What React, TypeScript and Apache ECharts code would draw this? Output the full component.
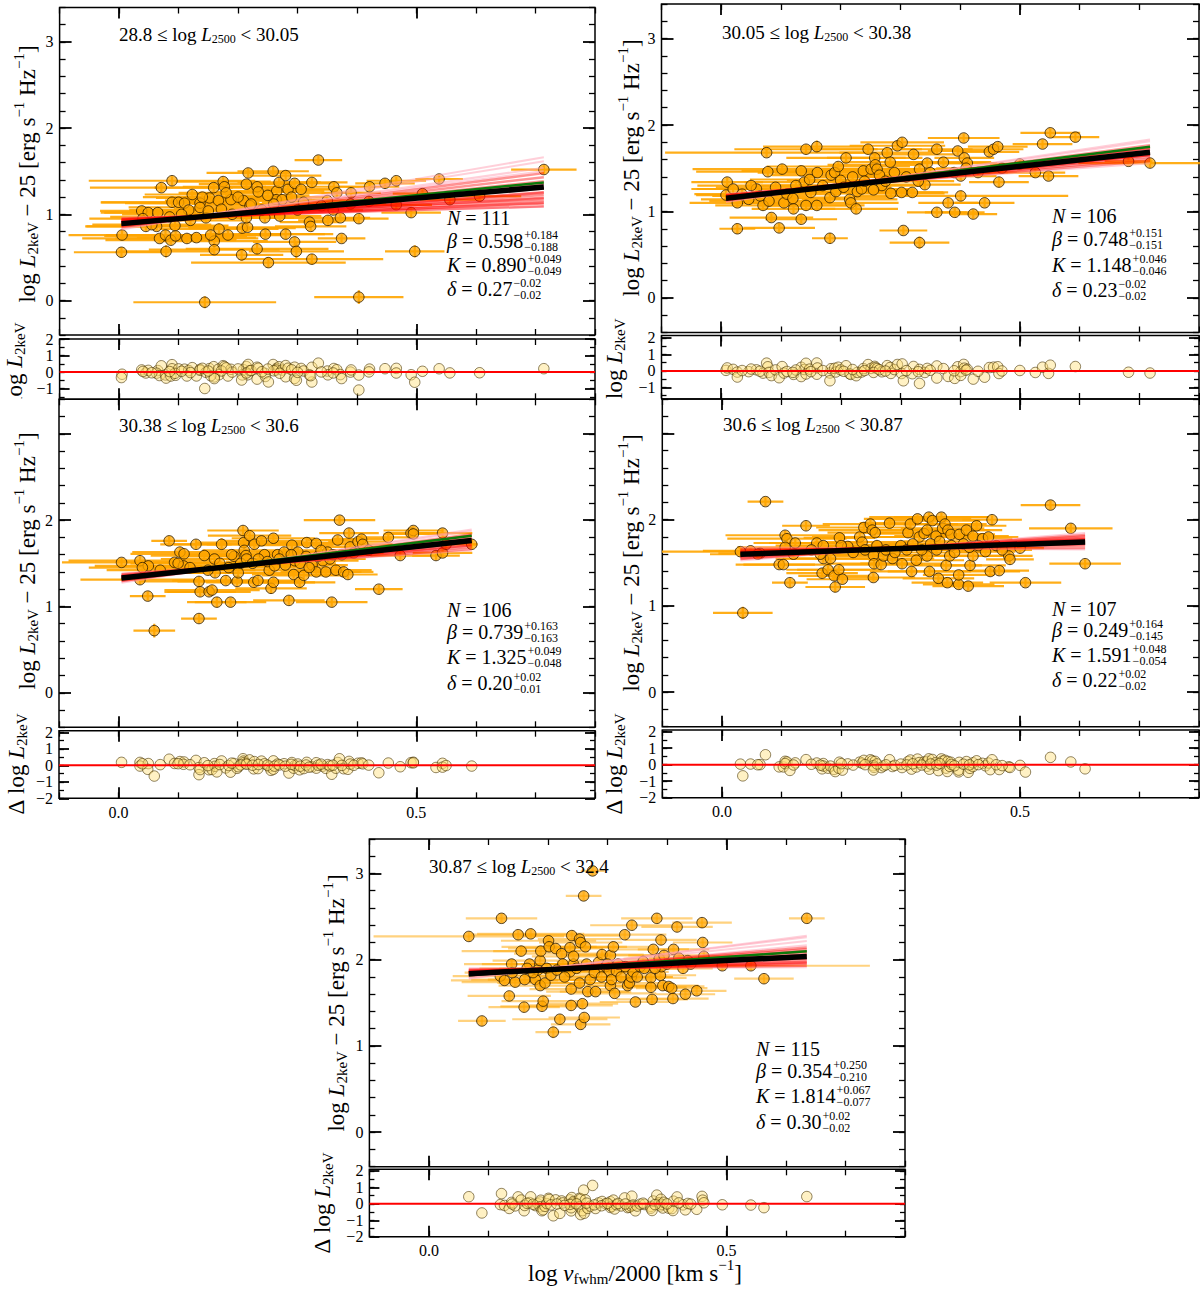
import React, { useEffect, useRef } from 'react';
import * as echarts from 'echarts';

const FONT = '"Liberation Serif", "DejaVu Serif", serif';

// ---------- data: [x, y, xErr, yErr] ----------
const POINTS_TL = [
  [0.005,0.76,0.09,0.06],[0.004,0.56,0.08,0.06],[0.038,1.04,0.07,0.05],[0.045,0.86,0.1,0.05],[0.049,1.02,0.08,0.05],
  [0.065,1.02,0.09,0.05],[0.071,1.31,0.12,0.05],[0.089,1.39,0.14,0.05],[0.063,0.86,0.12,0.05],[0.068,0.72,0.13,0.05],
  [0.078,0.76,0.1,0.06],[0.079,0.57,0.08,0.07],[0.087,0.70,0.11,0.05],[0.095,0.75,0.12,0.05],[0.089,1.14,0.12,0.05],
  [0.10,1.14,0.13,0.05],[0.11,1.13,0.1,0.05],[0.094,0.87,0.09,0.05],[0.117,1.05,0.1,0.05],[0.114,0.72,0.12,0.05],
  [0.13,0.73,0.1,0.05],[0.123,1.23,0.08,0.05],[0.136,1.13,0.1,0.05],[0.136,1.08,0.12,0.05],[0.146,0.96,0.1,0.05],
  [0.152,1.19,0.09,0.05],[0.159,1.31,0.1,0.05],[0.167,1.16,0.09,0.05],[0.175,1.38,0.08,0.05],[0.177,1.32,0.07,0.05],
  [0.168,0.83,0.1,0.06],[0.16,0.69,0.09,0.06],[0.154,0.76,0.1,0.05],[0.16,0.59,0.11,0.06],[0.183,0.76,0.09,0.05],
  [0.144,-0.02,0.12,0.07],[0.188,1.17,0.09,0.05],[0.172,1.06,0.08,0.05],[0.209,1.16,0.1,0.05],[0.207,0.84,0.09,0.05],
  [0.216,0.85,0.1,0.05],[0.206,0.53,0.07,0.07],[0.214,1.35,0.08,0.05],[0.217,1.48,0.07,0.05],[0.22,1.10,0.09,0.05],
  [0.214,0.96,0.08,0.05],[0.222,1.12,0.1,0.05],[0.232,1.32,0.08,0.05],[0.234,1.26,0.07,0.05],[0.232,0.60,0.12,0.06],
  [0.245,0.96,0.08,0.05],[0.246,0.77,0.1,0.05],[0.251,0.44,0.13,0.06],[0.259,1.50,0.06,0.05],[0.265,1.27,0.08,0.05],
  [0.269,1.37,0.07,0.05],[0.264,1.17,0.06,0.05],[0.274,1.17,0.07,0.05],[0.28,1.45,0.06,0.05],[0.284,1.29,0.07,0.05],
  [0.28,0.77,0.08,0.06],[0.295,1.36,0.06,0.05],[0.295,0.68,0.07,0.06],[0.298,0.57,0.08,0.1],[0.306,1.29,0.06,0.05],
  [0.31,1.14,0.07,0.05],[0.324,1.37,0.06,0.05],[0.324,0.48,0.12,0.06],[0.32,0.91,0.05,0.05],[0.322,0.86,0.06,0.05],
  [0.335,1.63,0.04,0.05],[0.35,1.16,0.06,0.05],[0.351,0.93,0.05,0.05],[0.361,1.32,0.05,0.05],[0.366,1.25,0.06,0.05],
  [0.372,0.96,0.05,0.05],[0.374,0.72,0.04,0.05],[0.389,1.12,0.06,0.05],[0.403,0.95,0.05,0.05],[0.403,0.04,0.075,0.08],
  [0.421,1.32,0.05,0.05],[0.447,1.36,0.05,0.05],[0.466,1.39,0.05,0.05],[0.466,1.11,0.06,0.05],[0.491,1.02,0.05,0.05],
  [0.497,0.57,0.05,0.07],[0.51,1.24,0.05,0.05],[0.538,1.41,0.04,0.05],[0.556,1.17,0.05,0.05],[0.606,1.21,0.07,0.05],
  [0.714,1.52,0.055,0.05],[0.04,0.95,0.09,0.05],[0.055,0.88,0.1,0.05],[0.085,0.97,0.1,0.05],[0.12,0.93,0.09,0.05],
  [0.14,1.2,0.1,0.05],[0.19,1.0,0.08,0.05],[0.2,1.2,0.09,0.05],[0.24,1.05,0.07,0.05],[0.26,1.12,0.07,0.05],
  [0.27,0.98,0.07,0.05],[0.29,1.2,0.06,0.05],[0.3,1.05,0.06,0.05],[0.34,1.1,0.05,0.05],[0.36,1.05,0.05,0.05],
  [0.39,1.25,0.05,0.05],[0.42,1.15,0.05,0.05],[0.15,1.04,0.1,0.05],[0.25,1.22,0.07,0.05],[0.18,1.25,0.08,0.05],
  [0.105,1.0,0.1,0.05],
];

const POINTS_TR = [
  [0.008,1.19,0.05,0.05],[0.01,1.34,0.06,0.05],[0.02,1.26,0.07,0.05],[0.027,1.10,0.08,0.05],[0.027,0.80,0.03,0.06],
  [0.046,1.14,0.08,0.05],[0.059,1.26,0.1,0.05],[0.07,1.07,0.08,0.05],[0.076,1.68,0.17,0.05],[0.078,1.46,0.12,0.05],
  [0.08,1.12,0.1,0.05],[0.084,0.93,0.07,0.05],[0.091,1.28,0.1,0.05],[0.097,0.81,0.06,0.05],[0.102,1.49,0.15,0.05],
  [0.105,1.10,0.08,0.05],[0.121,1.03,0.07,0.05],[0.134,1.47,0.1,0.05],[0.134,0.91,0.06,0.05],[0.139,1.34,0.1,0.05],
  [0.142,1.72,0.12,0.05],[0.142,1.07,0.08,0.05],[0.148,1.37,0.1,0.05],[0.16,1.75,0.09,0.07],[0.161,1.45,0.1,0.05],
  [0.16,1.07,0.08,0.05],[0.182,1.16,0.1,0.05],[0.182,0.69,0.03,0.06],[0.184,1.42,0.1,0.05],[0.19,1.45,0.1,0.05],
  [0.192,1.23,0.09,0.05],[0.196,1.52,0.12,0.05],[0.2,1.36,0.09,0.05],[0.209,1.62,0.1,0.05],[0.215,1.14,0.08,0.05],
  [0.217,1.10,0.08,0.05],[0.226,1.03,0.07,0.05],[0.228,1.23,0.09,0.05],[0.235,1.26,0.08,0.05],[0.238,1.47,0.1,0.05],
  [0.246,1.72,0.09,0.05],[0.251,1.49,0.09,0.05],[0.257,1.62,0.08,0.05],[0.258,1.54,0.08,0.05],[0.261,1.49,0.08,0.05],
  [0.269,1.30,0.07,0.05],[0.278,1.68,0.08,0.05],[0.283,1.57,0.08,0.05],[0.284,1.21,0.09,0.05],[0.29,1.45,0.07,0.05],
  [0.295,1.76,0.08,0.05],[0.303,1.80,0.07,0.05],[0.302,1.22,0.07,0.05],[0.305,0.78,0.04,0.05],[0.32,1.22,0.06,0.05],
  [0.322,1.66,0.07,0.05],[0.332,1.49,0.07,0.05],[0.332,0.64,0.05,0.07],[0.341,1.31,0.06,0.05],[0.345,1.56,0.07,0.05],
  [0.361,1.72,0.06,0.05],[0.361,0.99,0.05,0.05],[0.372,1.57,0.08,0.05],[0.38,1.10,0.05,0.05],[0.391,0.99,0.05,0.05],
  [0.396,1.70,0.05,0.05],[0.401,1.41,0.06,0.05],[0.401,1.18,0.18,0.06],[0.406,1.85,0.06,0.05],[0.407,1.62,0.05,0.05],
  [0.412,1.56,0.05,0.05],[0.422,0.97,0.04,0.05],[0.441,1.10,0.05,0.05],[0.449,1.69,0.05,0.05],[0.456,1.72,0.05,0.05],
  [0.463,1.75,0.05,0.05],[0.465,1.34,0.05,0.06],[0.526,1.45,0.05,0.05],[0.538,1.78,0.05,0.05],[0.548,1.41,0.05,0.05],
  [0.551,1.91,0.05,0.05],[0.593,1.86,0.04,0.05],[0.682,1.58,0.04,0.05],[0.718,1.56,0.12,0.05],
  [0.035,1.2,0.08,0.05],[0.05,1.3,0.09,0.05],[0.065,1.18,0.08,0.05],[0.11,1.2,0.09,0.05],[0.125,1.3,0.08,0.05],
  [0.15,1.22,0.08,0.05],[0.17,1.3,0.08,0.05],[0.205,1.28,0.08,0.05],[0.22,1.4,0.08,0.05],[0.24,1.35,0.07,0.05],
  [0.255,1.25,0.07,0.05],[0.265,1.42,0.07,0.05],[0.275,1.35,0.07,0.05],[0.31,1.4,0.07,0.05],[0.33,1.35,0.06,0.05],
  [0.35,1.45,0.06,0.05],[0.39,1.45,0.06,0.05],[0.41,1.5,0.05,0.05],[0.43,1.45,0.05,0.05],[0.47,1.5,0.05,0.05],
  [0.5,1.55,0.05,0.05],[0.12,1.15,0.08,0.05],
];

const POINTS_ML = [
  [0.005,1.51,0.1,0.05],[0.036,1.53,0.12,0.05],[0.036,1.31,0.1,0.05],[0.05,1.47,0.09,0.05],[0.049,1.12,0.03,0.05],
  [0.06,0.72,0.035,0.08],[0.085,1.76,0.03,0.05],[0.094,1.51,0.08,0.05],[0.103,1.63,0.08,0.05],[0.11,1.61,0.09,0.05],
  [0.109,1.47,0.1,0.05],[0.13,1.72,0.06,0.05],[0.135,1.29,0.1,0.05],[0.135,0.86,0.03,0.05],[0.137,1.17,0.06,0.05],
  [0.144,1.59,0.09,0.05],[0.152,1.17,0.07,0.05],[0.157,1.19,0.08,0.05],[0.161,1.55,0.09,0.05],[0.162,1.39,0.1,0.05],
  [0.165,1.05,0.05,0.06],[0.173,1.72,0.08,0.07],[0.18,1.30,0.09,0.05],[0.188,1.05,0.06,0.05],[0.194,1.58,0.09,0.05],
  [0.199,1.29,0.1,0.05],[0.201,1.39,0.1,0.05],[0.209,1.88,0.06,0.05],[0.21,1.74,0.08,0.05],[0.211,1.65,0.07,0.05],
  [0.214,1.59,0.08,0.05],[0.22,1.82,0.07,0.05],[0.227,1.28,0.08,0.05],[0.228,1.72,0.08,0.05],[0.234,1.30,0.07,0.05],
  [0.24,1.76,0.07,0.05],[0.245,1.60,0.08,0.05],[0.253,1.42,0.08,0.05],[0.256,1.21,0.06,0.06],[0.26,1.79,0.07,0.05],
  [0.26,1.28,0.07,0.05],[0.267,1.60,0.07,0.05],[0.278,1.63,0.08,0.05],[0.286,1.07,0.06,0.05],[0.291,1.71,0.07,0.05],
  [0.294,1.37,0.07,0.05],[0.296,1.53,0.07,0.05],[0.301,1.63,0.07,0.05],[0.304,1.28,0.06,0.06],[0.311,1.36,0.07,0.05],
  [0.316,1.74,0.06,0.05],[0.325,1.48,0.06,0.05],[0.332,1.73,0.06,0.05],[0.332,1.40,0.06,0.05],[0.343,1.53,0.06,0.05],
  [0.348,1.40,0.06,0.05],[0.351,1.63,0.06,0.05],[0.358,1.05,0.06,0.05],[0.365,1.42,0.06,0.05],[0.368,1.77,0.05,0.05],
  [0.371,2.00,0.06,0.05],[0.378,1.40,0.05,0.05],[0.385,1.37,0.05,0.05],[0.387,1.85,0.05,0.05],[0.389,1.69,0.05,0.05],
  [0.402,1.75,0.05,0.05],[0.408,1.78,0.05,0.05],[0.437,1.20,0.04,0.05],[0.453,1.80,0.05,0.05],[0.473,1.59,0.05,0.05],
  [0.491,1.85,0.04,0.05],[0.495,1.88,0.05,0.05],[0.495,1.84,0.05,0.05],[0.533,1.59,0.04,0.05],[0.544,1.85,0.05,0.05],
  [0.544,1.62,0.05,0.05],[0.593,1.72,0.01,0.05],
  [0.04,1.45,0.09,0.05],[0.07,1.42,0.09,0.05],[0.1,1.5,0.08,0.05],[0.12,1.45,0.08,0.05],[0.15,1.42,0.08,0.05],
  [0.17,1.5,0.08,0.05],[0.185,1.45,0.08,0.05],[0.19,1.6,0.08,0.05],[0.205,1.5,0.08,0.05],[0.215,1.55,0.07,0.05],
  [0.225,1.5,0.07,0.05],[0.235,1.55,0.07,0.05],[0.25,1.52,0.07,0.05],[0.262,1.47,0.07,0.05],[0.27,1.55,0.07,0.05],
  [0.28,1.48,0.07,0.05],[0.29,1.6,0.07,0.05],[0.305,1.5,0.06,0.05],[0.315,1.58,0.06,0.05],[0.32,1.45,0.06,0.05],
  [0.335,1.58,0.06,0.05],[0.34,1.65,0.06,0.05],[0.355,1.55,0.06,0.05],[0.36,1.6,0.06,0.05],[0.375,1.6,0.05,0.05],
  [0.395,1.62,0.05,0.05],[0.41,1.72,0.05,0.05],[0.42,1.65,0.05,0.05],[0.55,1.72,0.05,0.05],
];

const POINTS_MR = [
  [0.031,1.63,0.16,0.05],[0.035,0.92,0.05,0.07],[0.048,1.64,0.08,0.05],[0.064,1.61,0.07,0.05],[0.073,2.21,0.03,0.05],
  [0.096,1.48,0.06,0.05],[0.103,1.48,0.08,0.05],[0.106,1.82,0.1,0.05],[0.109,1.78,0.1,0.05],[0.106,1.68,0.08,0.05],
  [0.114,1.27,0.03,0.05],[0.123,1.73,0.07,0.05],[0.141,1.93,0.04,0.05],[0.159,1.73,0.08,0.05],[0.17,1.70,0.08,0.05],
  [0.168,1.38,0.06,0.05],[0.17,1.55,0.08,0.05],[0.178,1.42,0.07,0.05],[0.182,1.55,0.08,0.05],[0.188,1.35,0.06,0.05],
  [0.19,1.22,0.05,0.06],[0.196,1.42,0.07,0.05],[0.202,1.31,0.06,0.05],[0.197,1.79,0.06,0.05],[0.211,1.69,0.07,0.05],
  [0.231,1.80,0.08,0.05],[0.235,1.74,0.08,0.05],[0.238,1.91,0.08,0.05],[0.249,1.95,0.08,0.05],[0.252,1.88,0.09,0.05],
  [0.257,1.85,0.08,0.05],[0.254,1.59,0.08,0.05],[0.255,1.49,0.08,0.05],[0.254,1.33,0.07,0.05],[0.267,1.48,0.07,0.05],
  [0.271,1.58,0.08,0.05],[0.281,1.96,0.05,0.05],[0.286,1.55,0.07,0.05],[0.302,1.49,0.07,0.05],[0.312,1.85,0.08,0.05],
  [0.316,1.95,0.08,0.05],[0.318,1.40,0.07,0.05],[0.328,2.01,0.09,0.05],[0.326,1.53,0.08,0.05],[0.331,1.80,0.08,0.05],
  [0.339,1.84,0.08,0.05],[0.344,1.88,0.08,0.05],[0.344,1.58,0.07,0.05],[0.347,2.03,0.1,0.05],[0.348,1.40,0.07,0.05],
  [0.353,1.99,0.08,0.05],[0.359,1.81,0.07,0.05],[0.363,1.32,0.06,0.05],[0.368,2.03,0.08,0.05],[0.37,1.90,0.07,0.05],
  [0.374,1.95,0.07,0.05],[0.376,1.47,0.06,0.05],[0.378,1.27,0.06,0.05],[0.379,1.88,0.07,0.05],[0.382,1.58,0.06,0.05],
  [0.384,1.83,0.06,0.05],[0.397,1.25,0.06,0.05],[0.397,1.36,0.06,0.05],[0.398,1.83,0.06,0.05],[0.41,1.88,0.06,0.05],
  [0.413,1.23,0.06,0.05],[0.416,1.47,0.06,0.05],[0.421,1.58,0.06,0.05],[0.421,1.81,0.06,0.05],[0.427,1.93,0.05,0.05],
  [0.437,1.78,0.05,0.05],[0.442,1.63,0.05,0.05],[0.447,1.80,0.05,0.05],[0.45,1.40,0.05,0.05],[0.453,2.00,0.05,0.05],
  [0.465,1.41,0.05,0.05],[0.481,1.58,0.04,0.05],[0.483,1.54,0.04,0.05],[0.5,1.67,0.04,0.05],[0.509,1.27,0.06,0.05],
  [0.551,2.17,0.05,0.05],[0.585,1.90,0.07,0.05],[0.609,1.49,0.06,0.05],
  [0.06,1.6,0.08,0.05],[0.12,1.6,0.08,0.05],[0.15,1.65,0.08,0.05],[0.165,1.6,0.08,0.05],[0.22,1.62,0.08,0.05],
  [0.24,1.65,0.08,0.05],[0.26,1.7,0.08,0.05],[0.275,1.65,0.07,0.05],[0.29,1.62,0.07,0.05],[0.3,1.7,0.07,0.05],
  [0.31,1.65,0.07,0.05],[0.32,1.72,0.07,0.05],[0.335,1.65,0.07,0.05],[0.35,1.72,0.07,0.05],[0.36,1.65,0.06,0.05],
  [0.365,1.75,0.06,0.05],[0.385,1.7,0.06,0.05],[0.39,1.62,0.06,0.05],[0.405,1.72,0.06,0.05],[0.415,1.68,0.06,0.05],
  [0.43,1.7,0.05,0.05],[0.46,1.7,0.05,0.05],[0.47,1.65,0.05,0.05],[0.2,1.7,0.07,0.05],
];

const POINTS_B = [
  [0.067,2.27,0.16,0.05],[0.089,1.29,0.04,0.05],[0.122,2.48,0.06,0.05],[0.12,1.81,0.08,0.05],[0.127,1.76,0.09,0.05],
  [0.135,1.58,0.07,0.05],[0.139,1.95,0.08,0.05],[0.145,1.74,0.09,0.05],[0.15,2.29,0.08,0.05],[0.155,2.10,0.1,0.05],
  [0.16,1.45,0.06,0.05],[0.161,1.77,0.09,0.05],[0.169,1.95,0.08,0.05],[0.171,2.30,0.09,0.05],[0.179,1.77,0.08,0.05],
  [0.183,1.88,0.08,0.05],[0.187,1.99,0.08,0.05],[0.188,2.10,0.08,0.05],[0.187,1.70,0.07,0.05],[0.19,1.46,0.07,0.05],
  [0.192,1.52,0.07,0.05],[0.195,1.73,0.08,0.05],[0.198,1.90,0.08,0.05],[0.201,2.22,0.08,0.05],[0.202,2.15,0.08,0.05],
  [0.209,1.16,0.03,0.07],[0.213,2.13,0.08,0.05],[0.22,1.31,0.08,0.05],[0.223,2.07,0.08,0.05],[0.225,1.95,0.07,0.05],
  [0.237,2.14,0.08,0.05],[0.239,1.47,0.07,0.05],[0.239,1.66,0.07,0.05],[0.24,2.28,0.08,0.05],[0.243,1.95,0.07,0.05],
  [0.243,2.04,0.07,0.05],[0.237,1.86,0.07,0.05],[0.253,2.24,0.07,0.05],[0.255,2.20,0.07,0.05],[0.253,1.73,0.07,0.05],
  [0.255,1.25,0.05,0.06],[0.258,1.49,0.06,0.05],[0.26,2.74,0.03,0.05],[0.261,1.33,0.06,0.05],[0.263,2.15,0.07,0.05],
  [0.267,1.63,0.07,0.05],[0.271,1.77,0.07,0.05],[0.275,3.03,0.02,0.05],[0.28,1.63,0.06,0.05],[0.285,1.97,0.07,0.05],
  [0.291,2.06,0.07,0.05],[0.297,1.92,0.07,0.05],[0.303,1.87,0.07,0.05],[0.305,2.05,0.07,0.05],[0.305,1.70,0.07,0.05],
  [0.307,1.77,0.07,0.05],[0.31,2.15,0.07,0.05],[0.312,1.61,0.07,0.05],[0.315,1.87,0.07,0.05],[0.323,1.80,0.07,0.05],
  [0.329,2.29,0.07,0.05],[0.334,1.70,0.07,0.05],[0.337,1.73,0.07,0.05],[0.34,1.80,0.07,0.05],[0.341,2.40,0.07,0.05],
  [0.343,1.86,0.06,0.05],[0.347,1.51,0.06,0.05],[0.35,1.80,0.06,0.05],[0.355,1.92,0.06,0.05],[0.362,1.90,0.06,0.05],
  [0.373,1.79,0.06,0.05],[0.373,1.68,0.06,0.05],[0.375,1.54,0.06,0.05],[0.377,2.12,0.06,0.05],[0.383,2.48,0.06,0.05],
  [0.387,2.01,0.06,0.05],[0.39,2.23,0.06,0.05],[0.389,1.82,0.06,0.05],[0.391,1.92,0.06,0.05],[0.393,1.70,0.06,0.05],
  [0.395,2.05,0.06,0.05],[0.403,1.69,0.06,0.05],[0.408,1.67,0.06,0.05],[0.41,1.55,0.06,0.05],[0.411,2.12,0.06,0.05],
  [0.417,2.38,0.06,0.05],[0.427,1.90,0.05,0.05],[0.431,1.60,0.05,0.05],[0.435,1.99,0.05,0.05],[0.45,1.64,0.05,0.05],
  [0.459,2.43,0.05,0.05],[0.46,2.20,0.05,0.05],[0.462,2.04,0.05,0.05],[0.493,1.93,0.05,0.05],[0.541,1.93,0.2,0.05],
  [0.563,1.78,0.05,0.05],[0.635,2.48,0.03,0.05],
  [0.14,1.85,0.08,0.05],[0.165,1.9,0.08,0.05],[0.175,1.85,0.08,0.05],[0.205,1.82,0.08,0.05],[0.215,1.88,0.07,0.05],
  [0.228,1.8,0.07,0.05],[0.248,1.9,0.07,0.05],[0.265,1.95,0.07,0.05],[0.278,1.85,0.07,0.05],[0.29,1.8,0.07,0.05],
  [0.3,1.95,0.07,0.05],[0.318,1.95,0.07,0.05],[0.33,1.92,0.07,0.05],[0.36,1.98,0.06,0.05],[0.38,1.9,0.06,0.05],
  [0.4,1.95,0.06,0.05],[0.42,2.02,0.05,0.05],[0.44,1.95,0.05,0.05],
];

// best fit [K, beta], and the green line [K, beta]
const FIT = [[0.890,0.598],[1.148,0.748],[1.325,0.739],[1.591,0.249],[1.814,0.354]];
const GREEN = [[0.877,0.69],[1.136,0.853],[1.315,0.85],[1.59,0.26],[1.787,0.49]];

// posterior sample lines [K, beta]
const RED_TL = [[0.95,0.20],[0.94,0.26],[0.93,0.32],[0.92,0.38],[0.91,0.44],[0.90,0.50],[0.90,0.56],[0.89,0.60],[0.88,0.66],[0.87,0.72],[0.86,0.80],[0.85,0.88],[0.92,0.30],[0.94,0.34],[0.88,0.52]];
const PINK_TL = [[0.84,0.98],[0.83,1.1],[0.82,1.18],[0.86,0.9],[0.96,0.18]];
const RED_TR = [[1.19,0.55],[1.18,0.60],[1.17,0.65],[1.16,0.70],[1.15,0.75],[1.14,0.80],[1.13,0.85],[1.12,0.90],[1.18,0.66],[1.15,0.70],[1.14,0.76],[1.16,0.80]];
const PINK_TR = [[1.11,0.98],[1.20,0.50],[1.10,1.02]];
const RED_ML = [[1.37,0.50],[1.36,0.56],[1.35,0.62],[1.34,0.68],[1.33,0.72],[1.32,0.78],[1.31,0.82],[1.30,0.88],[1.29,0.92],[1.34,0.62],[1.32,0.72]];
const PINK_ML = [[1.28,1.0],[1.38,0.45],[1.27,1.05]];
const RED_MR = [[1.66,0.02],[1.64,0.10],[1.63,0.15],[1.62,0.20],[1.61,0.24],[1.60,0.27],[1.59,0.30],[1.57,0.34],[1.56,0.38],[1.54,0.44],[1.53,0.48],[1.61,0.18],[1.58,0.26]];
const PINK_MR = [[1.51,0.55],[1.68,-0.04]];
const RED_B = [[1.88,0.08],[1.87,0.13],[1.86,0.18],[1.85,0.23],[1.84,0.28],[1.83,0.33],[1.82,0.37],[1.81,0.42],[1.80,0.47],[1.79,0.52],[1.78,0.57],[1.84,0.20]];
const PINK_B = [[1.76,0.72],[1.74,0.82],[1.72,0.88],[1.90,0.02],[1.75,0.66]];

// annotations
const BIN_LO = ['28.8','30.05','30.38','30.6','30.87'];
const BIN_HI = ['30.05','30.38','30.6','30.87','32.4'];
const STAT_N = ['111','106','106','107','115'];
const STAT_BETA = [['0.598','+0.184','−0.188'],['0.748','+0.151','−0.151'],['0.739','+0.163','−0.163'],['0.249','+0.164','−0.145'],['0.354','+0.250','−0.210']];
const STAT_K = [['0.890','+0.049','−0.049'],['1.148','+0.046','−0.046'],['1.325','+0.049','−0.048'],['1.591','+0.048','−0.054'],['1.814','+0.067','−0.077']];
const STAT_DELTA = [['0.27','−0.02','−0.02'],['0.23','−0.02','−0.02'],['0.20','+0.02','−0.01'],['0.22','+0.02','−0.02'],['0.30','+0.02','−0.02']];

// ticks
const X_MINOR = [-0.1,0,0.1,0.2,0.3,0.4,0.5,0.6,0.7,0.8];
const X_MAJOR = [0, 0.5];
const Y_MINOR = [-0.4,-0.2,0,0.2,0.4,0.6,0.8,1,1.2,1.4,1.6,1.8,2,2.2,2.4,2.6,2.8,3,3.2,3.4];
const Y_MAJOR = [0,1,2,3];
const R_MINOR = [-2,-1.5,-1,-0.5,0,0.5,1,1.5,2];
const R_MAJOR = [-2,-1,0,1,2];

const POINTS = [POINTS_TL, POINTS_TR, POINTS_ML, POINTS_MR, POINTS_B];
const REDS = [RED_TL, RED_TR, RED_ML, RED_MR, RED_B];
const PINKS = [PINK_TL, PINK_TR, PINK_ML, PINK_MR, PINK_B];

// ---------- layout (pixels) ----------
const LAYOUT = [
  { main:{left:59.6,top:7.5,width:535.4,height:327.5}, res:{left:59.6,top:339,width:535.4,height:60.3}, rMin:-1.65, rMax:2.0, xLab:false,
    title:[119,34], stats:[447,[218,241,265,289]], ylab:[27,174], rlab:[14,373], barAlpha:0.9 },
  { main:{left:661.5,top:4,width:537.5,height:328.5}, res:{left:661.5,top:335.5,width:537.5,height:63.5}, rMin:-1.7, rMax:2.15, xLab:false,
    title:[722,32], stats:[1052,[216,239,265,290]], ylab:[631,168], rlab:[614,369], barAlpha:0.9 },
  { main:{left:59,top:399.3,width:536,height:328}, res:{left:59,top:730.7,width:536,height:67.65}, rMin:-2, rMax:2.1, xLab:true,
    title:[119,425], stats:[447,[610,632,657,683]], ylab:[27,561], rlab:[16,764], barAlpha:0.9 },
  { main:{left:662.3,top:399,width:536.7,height:327.7}, res:{left:662.3,top:730,width:536.7,height:67.65}, rMin:-2, rMax:2.1, xLab:true,
    title:[723,424], stats:[1052,[609,630,655,680]], ylab:[631,563], rlab:[614,764], barAlpha:0.9 },
  { main:{left:369.4,top:839,width:535.6,height:327.7}, res:{left:369.4,top:1169.3,width:535.6,height:67.4}, rMin:-2, rMax:2.1, xLab:true,
    title:[429,866], stats:[756,[1049,1071,1096,1122]], ylab:[336,1003], rlab:[322,1203], barAlpha:0.5 },
];

// ---------- text helpers ----------
let measureCtx: CanvasRenderingContext2D | null = null;
function measure(t: string, size: number, it?: boolean) {
  if (!measureCtx) measureCtx = document.createElement('canvas').getContext('2d');
  measureCtx!.font = `${it ? 'italic ' : ''}${size}px "Liberation Serif"`;
  return measureCtx!.measureText(t).width;
}
type Seg = { t: string; s: number; it?: boolean; dy?: number };
function nb(t: string) { return t.replace(/ /g, '\u00A0'); }
function mathText(segs: Seg[], x: number, y: number, rotate: boolean, anchor: 'left' | 'center', z = 60) {
  const ws = segs.map(s => measure(nb(s.t), s.s, s.it));
  const total = ws.reduce((a, b) => a + b, 0);
  let adv = anchor === 'center' ? -total / 2 : 0;
  const out: any[] = [];
  segs.forEach((s, i) => {
    const dy = s.dy || 0;
    const px = rotate ? x + dy : x + adv;
    const py = rotate ? y - adv : y + dy;
    out.push({
      type: 'text', x: px, y: py, rotation: rotate ? Math.PI / 2 : 0, z, silent: true,
      style: { text: nb(s.t), fontSize: s.s, fontFamily: FONT, fontStyle: s.it ? 'italic' : 'normal', fill: '#000', align: 'left', verticalAlign: 'middle' },
    });
    adv += ws[i];
  });
  return { els: out, width: total };
}

function fmtNum(v: number, digits: number) {
  const s = digits > 0 ? Math.abs(v).toFixed(digits) : String(Math.abs(v));
  return v < 0 ? '−' + s : s;
}

function buildOption() {
  const grid: any[] = [], xAxis: any[] = [], yAxis: any[] = [], series: any[] = [], graphic: any[] = [];
  const minorStyle = { color: '#000', width: 1.3 };
  const majorStyle = { color: '#000', width: 1.8 };
  const labelStyle = { fontFamily: FONT, fontSize: 16, color: '#000' };

  function addX(g: number, labels: boolean) {
    const base = { type: 'value', gridIndex: g, min: -0.1, max: 0.8, splitLine: { show: false }, axisLine: { show: false, onZero: false } };
    const minor = { show: true, inside: true, length: 6, customValues: X_MINOR, lineStyle: minorStyle };
    const major = { show: true, inside: true, length: 11, customValues: X_MAJOR, lineStyle: majorStyle };
    xAxis.push({ ...base, position: 'bottom', axisTick: minor, axisLabel: { show: false } });
    const idx = xAxis.length;
    xAxis.push({ ...base, position: 'bottom', axisTick: major,
      axisLabel: labels ? { show: true, customValues: X_MAJOR, formatter: (v: number) => fmtNum(v, 1), margin: 6, ...labelStyle } : { show: false } });
    xAxis.push({ ...base, position: 'top', axisTick: minor, axisLabel: { show: false } });
    xAxis.push({ ...base, position: 'top', axisTick: major, axisLabel: { show: false } });
    return idx;
  }
  function addY(g: number, min: number, max: number, minorVals: number[], majorVals: number[], len: number) {
    const base = { type: 'value', gridIndex: g, min, max, splitLine: { show: false }, axisLine: { show: false, onZero: false } };
    const mn = minorVals.filter(v => v >= min && v <= max);
    const mj = majorVals.filter(v => v >= min && v <= max);
    const minor = { show: true, inside: true, length: len / 2, customValues: mn, lineStyle: minorStyle };
    const major = { show: true, inside: true, length: len, customValues: mj, lineStyle: majorStyle };
    yAxis.push({ ...base, position: 'left', axisTick: minor, axisLabel: { show: false } });
    const idx = yAxis.length;
    yAxis.push({ ...base, position: 'left', axisTick: major,
      axisLabel: { show: true, customValues: mj, formatter: (v: number) => fmtNum(v, 0), margin: 6, ...labelStyle } });
    yAxis.push({ ...base, position: 'right', axisTick: minor, axisLabel: { show: false } });
    yAxis.push({ ...base, position: 'right', axisTick: major, axisLabel: { show: false } });
    return idx;
  }
  const gridStyle = { show: true, borderColor: '#000', borderWidth: 1.5, backgroundColor: 'transparent', containLabel: false, outerBoundsMode: 'none' };

  LAYOUT.forEach((L, pi) => {
    const pts = POINTS[pi];
    const [K, B] = FIT[pi];
    const [gK, gB] = GREEN[pi];
    const xs = pts.map(p => p[0]);
    const x0 = Math.min(...xs), x1 = Math.max(...xs);

    const gm = grid.length;
    grid.push({ ...L.main, ...gridStyle });
    const mx = addX(gm, false);
    const my = addY(gm, -0.4, 3.4, Y_MINOR, Y_MAJOR, 12);
    const gr = grid.length;
    grid.push({ ...L.res, ...gridStyle });
    const rx = addX(gr, L.xLab);
    const ry = addY(gr, L.rMin, L.rMax, R_MINOR, R_MAJOR, 10);

    const barColor = `rgba(255,165,0,${L.barAlpha})`;
    series.push({
      type: 'custom', xAxisIndex: mx, yAxisIndex: my, clip: true, silent: true, z: 1,
      dimensions: ['x', 'y', 'xe', 'ye'], encode: { x: 0, y: 1 },
      data: pts,
      renderItem: (params: any, api: any) => {
        const x = api.value(0), y = api.value(1), xe = api.value(2), ye = api.value(3);
        const a = api.coord([x - xe, y]), b = api.coord([x + xe, y]);
        const c = api.coord([x, y - ye]), d = api.coord([x, y + ye]);
        const st = { stroke: barColor, lineWidth: 2.2 };
        return { type: 'group', children: [
          { type: 'line', shape: { x1: a[0], y1: a[1], x2: b[0], y2: b[1] }, style: st },
          { type: 'line', shape: { x1: c[0], y1: c[1], x2: d[0], y2: d[1] }, style: st },
        ] };
      },
    });
    series.push({
      type: 'scatter', xAxisIndex: mx, yAxisIndex: my, silent: true, z: 2, symbolSize: 10.5,
      data: pts.map(p => [p[0], p[1]]),
      itemStyle: { color: 'rgba(255,165,0,0.92)', borderColor: '#2a1a00', borderWidth: 1 },
    });
    const addLine = (k: number, b: number, color: string, width: number, opacity: number, z: number) => {
      series.push({
        type: 'line', xAxisIndex: mx, yAxisIndex: my, silent: true, z, symbol: 'none', showSymbol: false,
        data: [[x0, k + b * x0], [x1, k + b * x1]], lineStyle: { color, width, opacity },
      });
    };
    PINKS[pi].forEach(([k, b]) => addLine(k, b, '#ffa0b4', 2, 0.5, 3));
    REDS[pi].forEach(([k, b]) => addLine(k, b, '#ff0000', 2.5, 0.42, 3));
    addLine(gK, gB, '#0b7a0b', 2.5, 1, 4);
    addLine(K, B, '#000000', 5.5, 1, 5);

    // residuals
    series.push({
      type: 'scatter', xAxisIndex: rx, yAxisIndex: ry, silent: true, z: 2, symbolSize: 10.5,
      data: pts.map(p => [p[0], p[1] - (K + B * p[0])]),
      itemStyle: { color: 'rgba(255,222,120,0.55)', borderColor: 'rgba(70,50,0,0.75)', borderWidth: 1 },
    });
    series.push({
      type: 'line', xAxisIndex: rx, yAxisIndex: ry, silent: true, z: 4, symbol: 'none', showSymbol: false,
      data: [[-0.1, 0], [0.8, 0]], lineStyle: { color: '#ff0000', width: 2 },
    });

    // annotations
    const t = mathText([
      { t: `${BIN_LO[pi]} ≤ log `, s: 19 }, { t: 'L', s: 19, it: true }, { t: '2500', s: 12, dy: 5 }, { t: ` < ${BIN_HI[pi]}`, s: 19 },
    ], L.title[0], L.title[1], false, 'left');
    graphic.push(...t.els);

    const sx = L.stats[0], sy = L.stats[1];
    graphic.push(...mathText([{ t: 'N', s: 20, it: true }, { t: ` = ${STAT_N[pi]}`, s: 20 }], sx, sy[0], false, 'left').els);
    const withScripts = (sym: string, vals: string[], y: number) => {
      const m = mathText([{ t: sym, s: 20, it: true }, { t: ` = ${vals[0]}`, s: 20 }], sx, y, false, 'left');
      graphic.push(...m.els);
      graphic.push(...mathText([{ t: vals[1], s: 12 }], sx + m.width + 1, y - 6, false, 'left').els);
      graphic.push(...mathText([{ t: vals[2], s: 12 }], sx + m.width + 1, y + 6, false, 'left').els);
    };
    withScripts('β', STAT_BETA[pi], sy[1]);
    withScripts('K', STAT_K[pi], sy[2]);
    withScripts('δ', STAT_DELTA[pi], sy[3]);

    graphic.push(...mathText([
      { t: 'log ', s: 23 }, { t: 'L', s: 23, it: true }, { t: '2keV', s: 15, dy: 6 }, { t: ' − 25 [erg s', s: 23 },
      { t: '−1', s: 15, dy: -8 }, { t: ' Hz', s: 23 }, { t: '−1', s: 15, dy: -8 }, { t: ']', s: 23 },
    ], L.ylab[0], L.ylab[1], true, 'center').els);
    graphic.push(...mathText([
      { t: 'Δ log ', s: 23 }, { t: 'L', s: 23, it: true }, { t: '2keV', s: 15, dy: 6 },
    ], L.rlab[0], L.rlab[1], true, 'center', pi < 2 ? 40 : 60).els);
  });

  // covers for the residual labels hidden behind the lower panels
  graphic.push({ type: 'rect', z: 50, silent: true, shape: { x: 0, y: 398.5, width: 57.5, height: 45 }, style: { fill: '#fff' } });
  graphic.push({ type: 'rect', z: 50, silent: true, shape: { x: 597, y: 398.5, width: 64, height: 45 }, style: { fill: '#fff' } });

  graphic.push(...mathText([
    { t: 'log ', s: 23 }, { t: 'v', s: 23, it: true }, { t: 'fwhm', s: 15, dy: 6 }, { t: '/2000 [km s', s: 23 },
    { t: '−1', s: 15, dy: -8 }, { t: ']', s: 23 },
  ], 635, 1273, false, 'center').els);

  return { backgroundColor: '#fff', animation: false, grid, xAxis, yAxis, series, graphic: { elements: graphic } };
}

export default function App() {
  const ref = useRef<HTMLDivElement>(null);
  useEffect(() => {
    document.body.style.margin = '0';
    const chart = echarts.init(ref.current!, null, { renderer: 'svg' });
    chart.setOption(buildOption() as any);
    return () => chart.dispose();
  }, []);
  return <div ref={ref} style={{ width: 1200, height: 1291, background: '#fff' }} />;
}
